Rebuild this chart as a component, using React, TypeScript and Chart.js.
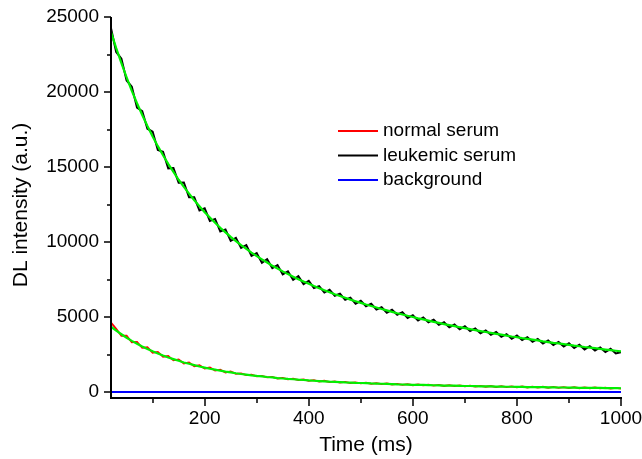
import React, { useEffect, useRef } from "react";
import { Chart, registerables } from "chart.js";

Chart.register(...registerables);

const TIMES = [
  20, 30, 40, 50, 60, 70, 80, 90, 100, 110, 120, 130, 140, 150, 160, 170, 180, 190, 200,
  210, 220, 230, 240, 250, 260, 270, 280, 290, 300, 310, 320, 330, 340, 350, 360, 370, 380, 390, 400,
  410, 420, 430, 440, 450, 460, 470, 480, 490, 500, 510, 520, 530, 540, 550, 560, 570, 580, 590, 600,
  610, 620, 630, 640, 650, 660, 670, 680, 690, 700, 710, 720, 730, 740, 750, 760, 770, 780, 790, 800,
  810, 820, 830, 840, 850, 860, 870, 880, 890, 900, 910, 920, 930, 940, 950, 960, 970, 980, 990, 1000,
];

const LEUKEMIC = [
  24250, 22670, 22220, 20770, 20360, 18950, 18720, 17550, 17360, 16130, 16020, 14910, 14930, 13950, 13970, 12980, 12980, 12100, 12240,
  11410, 11540, 10710, 10840, 10080, 10280, 9610, 9790, 9070, 9260, 8610, 8850, 8260, 8460, 7840, 8040, 7480, 7720, 7190, 7410,
  6930, 7060, 6630, 6820, 6420, 6550, 6140, 6290, 5890, 6080, 5720, 5890, 5500, 5650, 5290, 5480, 5150, 5320, 4940, 5120,
  4760, 4970, 4650, 4820, 4480, 4650, 4310, 4500, 4180, 4390, 4070, 4240, 3910, 4110, 3810, 4000, 3680, 3860, 3550, 3760,
  3460, 3660, 3350, 3540, 3230, 3440, 3140, 3340, 3030, 3250, 2940, 3150, 2840, 3050, 2770, 2970, 2660, 2880, 2570, 2650,
];

const LEUKEMIC_FIT = [
  24000, 22920, 21920, 20970, 20080, 19250, 18470, 17730, 17040, 16390, 15780, 15210, 14670, 14150, 13670, 13220, 12780, 12380, 11990,
  11630, 11280, 10950, 10640, 10340, 10060, 9790, 9540, 9290, 9060, 8840, 8630, 8420, 8230, 8040, 7860, 7690, 7520, 7360, 7210,
  7060, 6920, 6780, 6650, 6520, 6400, 6280, 6160, 6050, 5940, 5830, 5730, 5630, 5530, 5440, 5340, 5250, 5170, 5080, 5000,
  4910, 4840, 4760, 4680, 4610, 4530, 4460, 4390, 4320, 4260, 4190, 4120, 4060, 4000, 3940, 3880, 3820, 3760, 3700, 3650,
  3590, 3540, 3490, 3440, 3380, 3330, 3280, 3240, 3190, 3140, 3090, 3050, 3000, 2960, 2920, 2870, 2830, 2790, 2750, 2710,
];

const NORMAL = [
  4620, 4210, 3750, 3750, 3320, 3340, 2940, 2980, 2620, 2670, 2350, 2400, 2110, 2170, 1900, 1970, 1720, 1780, 1570,
  1630, 1430, 1490, 1300, 1370, 1210, 1240, 1120, 1150, 1040, 1080, 970, 1010, 900, 940, 840, 890, 790, 840, 740,
  790, 700, 750, 660, 710, 630, 680, 600, 640, 570, 620, 540, 590, 520, 570, 500, 540, 470, 520, 450,
  500, 440, 490, 420, 470, 400, 460, 390, 440, 370, 430, 360, 410, 350, 400, 330, 390, 320, 380, 310,
  370, 300, 360, 290, 350, 280, 340, 270, 330, 260, 320, 250, 310, 250, 300, 240, 290, 230, 280, 230,
];

const NORMAL_FIT = [
  4350, 4090, 3850, 3620, 3410, 3220, 3040, 2870, 2710, 2570, 2430, 2300, 2190, 2080, 1970, 1880, 1790, 1700, 1630,
  1550, 1490, 1420, 1360, 1310, 1250, 1200, 1160, 1110, 1070, 1040, 1000, 970, 930, 900, 870, 850, 820, 800, 770,
  750, 730, 710, 690, 680, 660, 640, 630, 610, 600, 590, 570, 560, 550, 540, 530, 510, 500, 490, 480,
  470, 470, 460, 450, 440, 430, 430, 420, 410, 400, 400, 390, 380, 380, 370, 360, 360, 350, 350, 340,
  340, 330, 330, 320, 320, 310, 310, 300, 300, 290, 290, 280, 280, 280, 270, 270, 260, 260, 260, 250,
];

const BACKGROUND_T = [20, 1000];
const BACKGROUND = [0, 0];

const X_MAJOR = [200, 400, 600, 800, 1000];
const X_MINOR = [100, 300, 500, 700, 900];
const Y_MAJOR = [0, 5000, 10000, 15000, 20000, 25000];
const Y_MINOR = [2500, 7500, 12500, 17500, 22500];

const LEGEND_LABELS = ["normal serum", "leukemic serum", "background"];
const LEGEND_COLORS = ["#ff0000", "#000000", "#0000ff"];

const FONT = "'Liberation Sans', Arial, sans-serif";

function pts(xs: number[], ys: number[]) {
  return ys.map((y, i) => ({ x: xs[i], y }));
}

const decorPlugin = {
  id: "decor",
  afterDraw(chart: any) {
    const ctx = chart.ctx;
    const xs = chart.scales.x;
    const ys = chart.scales.y;
    const { left, right, top, bottom } = chart.chartArea;
    ctx.save();
    ctx.strokeStyle = "#000";
    ctx.lineWidth = 2;
    ctx.beginPath();
    ctx.moveTo(left, top);
    ctx.lineTo(left, bottom + 1);
    ctx.lineTo(right + 1, bottom + 1);
    ctx.stroke();
    ctx.lineWidth = 1.5;
    ctx.beginPath();
    X_MAJOR.forEach((v) => {
      const p = Math.round(xs.getPixelForValue(v));
      ctx.moveTo(p, bottom + 1);
      ctx.lineTo(p, bottom + 9);
    });
    X_MINOR.forEach((v) => {
      const p = Math.round(xs.getPixelForValue(v));
      ctx.moveTo(p, bottom + 1);
      ctx.lineTo(p, bottom + 6);
    });
    Y_MAJOR.forEach((v) => {
      const p = Math.round(ys.getPixelForValue(v));
      ctx.moveTo(left - 7, p);
      ctx.lineTo(left, p);
    });
    Y_MINOR.forEach((v) => {
      const p = Math.round(ys.getPixelForValue(v));
      ctx.moveTo(left - 4, p);
      ctx.lineTo(left, p);
    });
    ctx.stroke();

    ctx.fillStyle = "#000";
    ctx.font = "19px " + FONT;
    ctx.textBaseline = "middle";
    ctx.textAlign = "center";
    X_MAJOR.forEach((v) => {
      ctx.fillText(String(v), xs.getPixelForValue(v), 419);
    });
    ctx.textAlign = "right";
    Y_MAJOR.forEach((v) => {
      ctx.fillText(String(v), 99, ys.getPixelForValue(v));
    });

    ctx.font = "21px " + FONT;
    ctx.textAlign = "center";
    ctx.fillText("Time (ms)", 366, 445);
    ctx.save();
    ctx.translate(21, 205);
    ctx.rotate(-Math.PI / 2);
    ctx.fillText("DL intensity (a.u.)", 0, 0);
    ctx.restore();

    ctx.font = "19px " + FONT;
    ctx.textAlign = "left";
    LEGEND_LABELS.forEach((lab, i) => {
      const y = 131 + i * 24.5;
      ctx.strokeStyle = LEGEND_COLORS[i];
      ctx.lineWidth = 2;
      ctx.beginPath();
      ctx.moveTo(338, y);
      ctx.lineTo(378, y);
      ctx.stroke();
      ctx.fillStyle = "#000";
      ctx.fillText(lab, 383, y);
    });
    ctx.restore();
  },
};

export default function App() {
  const ref = useRef<HTMLCanvasElement | null>(null);
  useEffect(() => {
    if (!ref.current) return;
    const chart = new Chart(ref.current, {
      type: "line",
      data: {
        datasets: [
          { label: "fit leukemic", data: pts(TIMES, LEUKEMIC_FIT), borderColor: "#00f000", borderWidth: 2.2, order: 0 },
          { label: "fit normal", data: pts(TIMES, NORMAL_FIT), borderColor: "#00f000", borderWidth: 2.2, order: 0 },
          { label: "background", data: pts(BACKGROUND_T, BACKGROUND), borderColor: "#0000ff", borderWidth: 2, order: 1 },
          { label: "leukemic serum", data: pts(TIMES, LEUKEMIC), borderColor: "#000000", borderWidth: 2, order: 2 },
          { label: "normal serum", data: pts(TIMES, NORMAL), borderColor: "#ff0000", borderWidth: 1.8, order: 3 },
        ],
      },
      options: {
        animation: false,
        responsive: false,
        devicePixelRatio: 1,
        layout: { padding: { left: 0, top: 17, right: 21, bottom: 0 } },
        elements: { point: { radius: 0 }, line: { tension: 0 } },
        plugins: { legend: { display: false }, tooltip: { enabled: false } },
        scales: {
          x: {
            type: "linear",
            min: 20,
            max: 1000,
            grid: { display: false },
            border: { display: false },
            ticks: { display: false },
            afterFit: (s: any) => {
              s.height = 62;
            },
          },
          y: {
            type: "linear",
            min: -333,
            max: 25000,
            grid: { display: false },
            border: { display: false },
            ticks: { display: false },
            afterFit: (s: any) => {
              s.width = 111;
            },
          },
        },
      },
      plugins: [decorPlugin],
    } as any);
    return () => chart.destroy();
  }, []);
  return (
    <div style={{ position: "fixed", left: 0, top: 0, width: 642, height: 459, background: "#fff" }}>
      <canvas ref={ref} width={642} height={459} style={{ width: 642, height: 459 }} />
    </div>
  );
}
